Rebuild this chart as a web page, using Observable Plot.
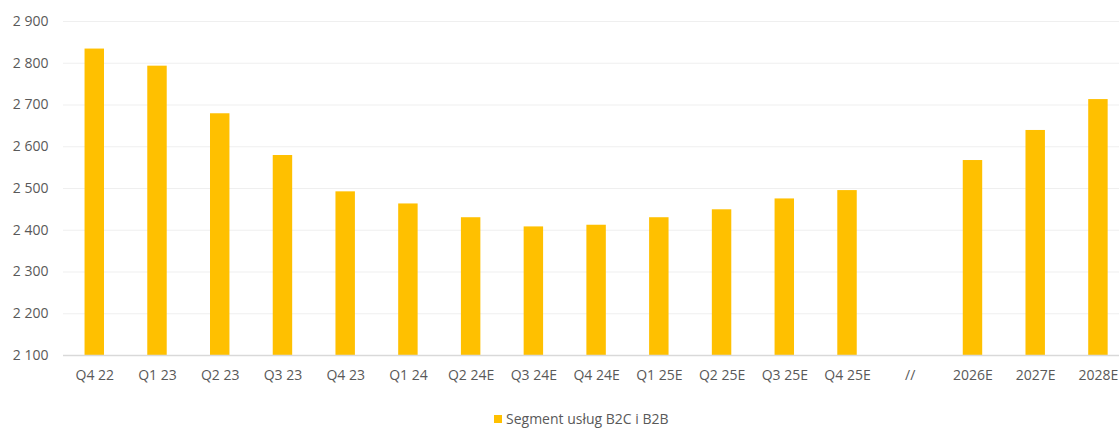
<!DOCTYPE html>
<html>
<head>
<meta charset="utf-8">
<script src="https://cdn.jsdelivr.net/npm/d3@7"></script>
<script src="https://cdn.jsdelivr.net/npm/@observablehq/plot@0.6"></script>
<style>
  body { margin: 0; background: #fff; font-family: "Open Sans", sans-serif; }
  #chart svg { display: block; }
  .legend { position: relative; height: 28px; font-size: 14px; color: #595959; }
  .legend .item { position: absolute; left: 494px; top: 9px; display: flex; align-items: center; gap: 4px; white-space: nowrap; }
  .legend .swatch { width: 8px; height: 8px; background: #FFC000; }
</style>
</head>
<body>
<div id="chart"></div>
<div class="legend"><div class="item"><span class="swatch"></span><span id="series-name"></span></div></div>
<script>
// Periods on the x axis ("//" marks the break between quarters and years)
const categories = ["Q4 22", "Q1 23", "Q2 23", "Q3 23", "Q4 23", "Q1 24", "Q2 24E", "Q3 24E", "Q4 24E",
  "Q1 25E", "Q2 25E", "Q3 25E", "Q4 25E", "//", "2026E", "2027E", "2028E"];
// Values per period (null = no bar)
const values = [2834, 2793, 2679, 2579, 2492, 2463, 2430, 2408, 2412,
  2430, 2449, 2475, 2495, null, 2567, 2639, 2713];
const seriesName = "Segment usług B2C i B2B";
const yTicks = [2100, 2200, 2300, 2400, 2500, 2600, 2700, 2800, 2900];

const data = categories.map((c, i) => ({cat: c, value: values[i]})).filter(d => d.value != null);
const fmt = d3.formatLocale({decimal: ",", thousands: " ", grouping: [3], currency: ["", " zł"]}).format(",");

const chart = Plot.plot({
  width: 1119,
  height: 400,
  marginTop: 21,
  marginBottom: 45,
  marginLeft: 63,
  marginRight: 0,
  style: {fontFamily: "'Open Sans', sans-serif", fontSize: "14px", color: "#595959", background: "#fff"},
  x: {domain: categories, range: [62.9, 1129.3], round: false, paddingInner: 0.69, paddingOuter: 0.345, label: null},
  y: {domain: [2100, 2900], label: null},
  marks: [
    Plot.ruleY(yTicks.slice(1), {stroke: "#efefef", strokeWidth: 1.2}),
    Plot.barY(data, {x: "cat", y1: 2100, y2: "value", fill: "#FFC000"}),
    Plot.ruleY([2100], {stroke: "#d9d9d9", strokeWidth: 1.6}),
    Plot.axisY({ticks: yTicks, tickSize: 0, tickPadding: 15, tickFormat: fmt, fill: "#595959"}),
    Plot.axisX({tickSize: 0, tickPadding: 15, fill: "#595959"})
  ]
});
document.getElementById("chart").appendChild(chart);
document.getElementById("series-name").textContent = seriesName;
</script>
</body>
</html>
